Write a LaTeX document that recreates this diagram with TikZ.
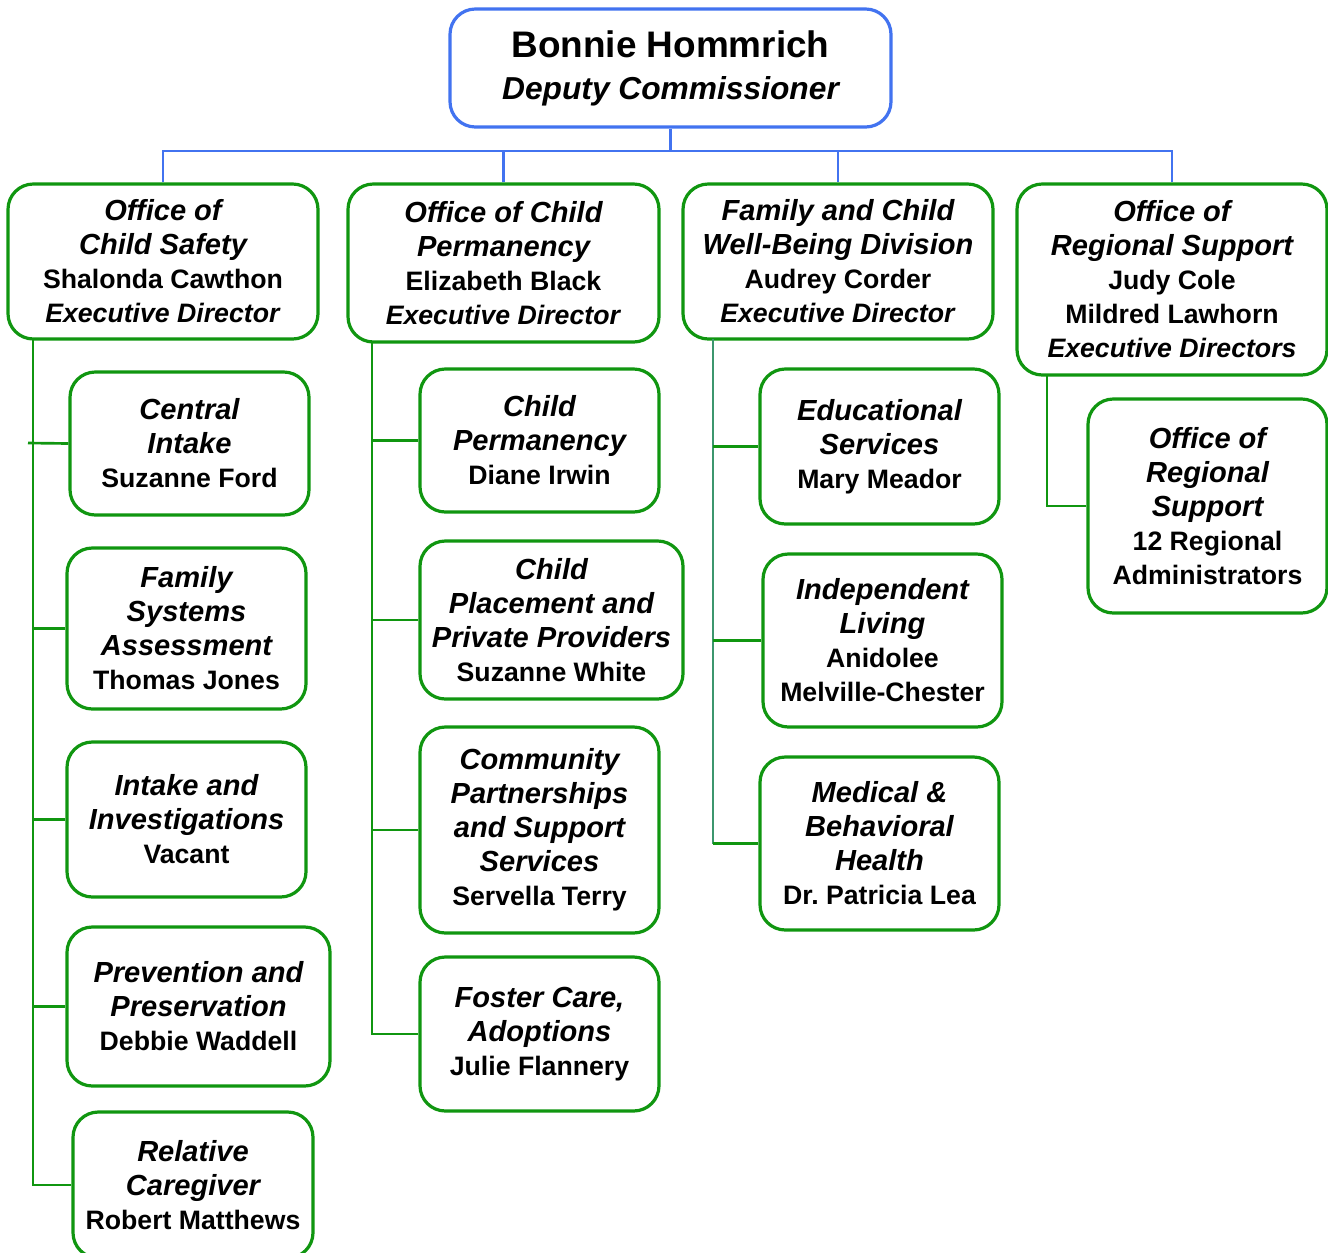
\documentclass[tikz,border=0pt]{standalone}
\usepackage{fontspec}
\setmainfont{Liberation Sans}[Ligatures=CommonOff]
\frenchspacing
\definecolor{gbox}{RGB}{16,150,16}
\definecolor{bbox}{RGB}{66,115,240}
\definecolor{tline}{RGB}{60,150,110}
\newcommand\orgbox[7]{\node[#2, minimum width={(#5-#3)*0.75pt}, minimum height={(#6-#4)*0.75pt}] (#1) at ({(#3+#5)/2},{(#4+#6)/2}) {#7};}
\newcommand\hd[1]{{\fontsize{21.8pt}{25.5pt}\selectfont\itshape #1}}
\begin{document}
\begin{tikzpicture}[x=0.75pt,y=-0.75pt,
  base/.style={rounded corners=19pt, line width=2.4pt, fill=white, inner sep=0pt, align=center,
    font=\fontsize{20pt}{25.5pt}\selectfont\bfseries},
  greenbox/.style={base, draw=gbox},
  bluebox/.style={base, draw=bbox, font=\fontsize{23.8pt}{31.5pt}\selectfont\bfseries},
  gline/.style={draw=gbox, line width=2pt},
  tealline/.style={draw=tline, line width=2pt},
  bline/.style={draw=bbox, line width=2.2pt}]
\useasboundingbox (0,0) rectangle (1328,1253);
% top
\orgbox{top}{bluebox}{450}{9}{891}{127}{{\fontsize{27.7pt}{31.5pt}\selectfont Bonnie Hommrich}\\{\itshape Deputy Commissioner}}
% level 1
\orgbox{la}{greenbox}{8}{184}{318}{339}{\hd{Office of}\\\hd{Child Safety}\\Shalonda Cawthon\\\textit{Executive Director}}
\orgbox{lb}{greenbox}{348}{184}{659}{342}{\hd{Office of Child}\\\hd{Permanency}\\Elizabeth Black\\\textit{Executive Director}}
\orgbox{lc}{greenbox}{683}{184}{993}{339}{\hd{Family and Child}\\\hd{Well-Being Division}\\Audrey Corder\\\textit{Executive Director}}
\orgbox{ld}{greenbox}{1017}{184}{1327}{375}{\hd{Office of}\\\hd{Regional Support}\\Judy Cole\\Mildred Lawhorn\\\textit{Executive Directors}}
% column 1
\orgbox{ca}{greenbox}{70}{372}{309}{515}{\hd{Central}\\\hd{Intake}\\Suzanne Ford}
\orgbox{cb}{greenbox}{67}{548}{306}{709}{\hd{Family}\\\hd{Systems}\\\hd{Assessment}\\Thomas Jones}
\orgbox{cc}{greenbox}{67}{742}{306}{897}{\hd{Intake and}\\\hd{Investigations}\\Vacant}
\orgbox{cd}{greenbox}{67}{927}{330}{1086}{\hd{Prevention and}\\\hd{Preservation}\\Debbie Waddell}
\orgbox{ce}{greenbox}{73}{1112}{313}{1258}{\hd{Relative}\\\hd{Caregiver}\\Robert Matthews}
% column 2
\orgbox{da}{greenbox}{420}{369}{659}{512}{\hd{Child}\\\hd{Permanency}\\Diane Irwin}
\orgbox{db}{greenbox}{420}{541}{683}{699}{\hd{Child}\\\hd{Placement and}\\\hd{Private Providers}\\Suzanne White}
\orgbox{dc}{greenbox}{420}{727}{659}{933}{\hd{Community}\\\hd{Partnerships}\\\hd{and Support}\\\hd{Services}\\Servella Terry}
\orgbox{dd}{greenbox}{420}{957}{659}{1111}{\hd{Foster Care,}\\\hd{Adoptions}\\Julie Flannery}
% column 3
\orgbox{ea}{greenbox}{760}{369}{999}{524}{\hd{Educational}\\\hd{Services}\\Mary Meador}
\orgbox{eb}{greenbox}{763}{554}{1002}{727}{\hd{Independent}\\\hd{Living}\\Anidolee\\Melville-Chester}
\orgbox{ec}{greenbox}{760}{757}{999}{930}{\hd{Medical \&}\\\hd{Behavioral}\\\hd{Health}\\Dr. Patricia Lea}
% column 4
\orgbox{fa}{greenbox}{1088}{399}{1327}{613}{\hd{Office of}\\\hd{Regional}\\\hd{Support}\\12 Regional\\Administrators}
% blue connectors
\coordinate (bus) at (670,151);
\draw[bline] (top.south) -- (top.south |- bus);
\draw[bline] (la.north) |- (bus) -| (ld.north);
\draw[bline] (lb.north) -- (lb.north |- bus);
\draw[bline] (lc.north) -- (lc.north |- bus);
% column 1 connectors
\coordinate (v1) at (33,339);
\draw[gline] (v1) |- (ce.west);
\coordinate (v1t) at (28,443);
\draw[gline] (ca.west) -- (v1t);
\draw[gline] (cb.west) -- (cb.west -| v1);
\draw[gline] (cc.west) -- (cc.west -| v1);
\draw[gline] (cd.west) -- (cd.west -| v1);
% column 2 connectors
\coordinate (v2) at (372,342);
\draw[gline] (v2) |- (dd.west);
\draw[gline] (da.west) -- (da.west -| v2);
\draw[gline] (db.west) -- (db.west -| v2);
\draw[gline] (dc.west) -- (dc.west -| v2);
% column 3 connectors
\coordinate (v3) at (713,339);
\draw[tealline] (v3) -- (v3 |- ec.west);
\draw[gline] (ea.west) -- (ea.west -| v3);
\draw[gline] (eb.west) -- (eb.west -| v3);
\draw[gline] (ec.west) -- (ec.west -| v3);
% column 4 connector
\coordinate (v4) at (1047,375);
\draw[gline] (v4) |- (fa.west);
\end{tikzpicture}
\end{document}
